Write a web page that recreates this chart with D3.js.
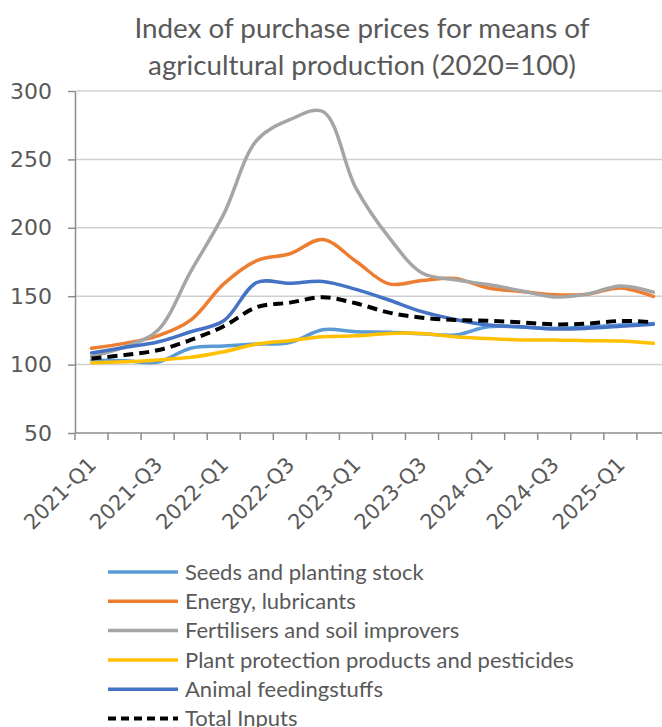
<!DOCTYPE html>
<html>
<head>
<meta charset="utf-8">
<script src="https://cdn.jsdelivr.net/npm/d3@7"></script>
<style>
  body { margin: 0; background: #fff; }
  svg { display: block; }
  text { font-family: Lato, "Liberation Sans", sans-serif; fill: #595959; }
  text.num { font-family: "DejaVu Sans", "Liberation Sans", sans-serif; }
</style>
</head>
<body>
<svg id="chart" width="662" height="727"></svg>
<script>
// Quarterly index values, 2020 = 100
const quarters = [
  "2021-Q1","2021-Q2","2021-Q3","2021-Q4",
  "2022-Q1","2022-Q2","2022-Q3","2022-Q4",
  "2023-Q1","2023-Q2","2023-Q3","2023-Q4",
  "2024-Q1","2024-Q2","2024-Q3","2024-Q4",
  "2025-Q1","2025-Q2"
];
const seeds      = [103.4, 102.8, 101.8, 112.0, 113.6, 115.0, 116.2, 125.5, 124.0, 123.6, 122.6, 121.6, 127.7, 127.5, 126.5, 127.4, 129.0, 130.0];
const energy     = [112.0, 115.5, 121.0, 132.5, 159.0, 176.0, 181.0, 191.5, 175.5, 159.0, 161.5, 163.0, 156.0, 153.5, 151.0, 151.5, 156.0, 149.8];
const fertiliser = [106.0, 113.0, 125.0, 168.0, 210.0, 264.0, 279.0, 285.0, 229.0, 193.0, 167.0, 162.0, 158.5, 154.0, 149.5, 151.5, 157.5, 153.0];
const plantProt  = [101.4, 102.0, 103.4, 105.3, 109.4, 115.0, 117.5, 120.4, 121.0, 122.8, 122.8, 120.4, 119.0, 118.0, 118.0, 117.5, 117.2, 115.6];
const feed       = [108.5, 112.5, 116.5, 124.0, 132.0, 160.0, 159.5, 160.8, 155.0, 147.2, 138.7, 133.0, 129.0, 127.7, 126.0, 126.5, 128.0, 129.5];
const total      = [104.5, 107.0, 110.5, 118.0, 128.0, 142.0, 145.3, 149.2, 144.8, 138.0, 134.3, 132.6, 132.0, 130.9, 129.4, 130.0, 131.9, 131.0];

const yTicks = [50, 100, 150, 200, 250, 300];
const xLabels = ["2021-Q1","2021-Q3","2022-Q1","2022-Q3","2023-Q1","2023-Q3","2024-Q1","2024-Q3","2025-Q1"];

const series = [
  { name: "Seeds and planting stock",                   values: seeds,      color: "#5B9BD5", dash: null },
  { name: "Energy, lubricants",                         values: energy,     color: "#ED7D31", dash: null },
  { name: "Fertilisers and soil improvers",             values: fertiliser, color: "#A5A5A5", dash: null },
  { name: "Plant protection products and pesticides",   values: plantProt,  color: "#FFC000", dash: null },
  { name: "Animal feedingstuffs",                       values: feed,       color: "#4472C4", dash: null },
  { name: "Total Inputs",                               values: total,      color: "#000000", dash: "10,6" }
];

const svg = d3.select("#chart");
const W = 662;
const plot = { left: 75, top: 91, bottom: 433, step: 33.05 };

const x = d3.scaleBand()
  .domain(quarters)
  .range([plot.left, plot.left + plot.step * quarters.length])
  .padding(0);
const cx = q => x(q) + x.bandwidth() / 2;
const y = d3.scaleLinear().domain([50, 300]).range([plot.bottom, plot.top]);

// Title
const title = svg.append("text")
  .attr("x", 362).attr("y", 38)
  .attr("text-anchor", "middle")
  .style("font-size", "27.8px");
title.append("tspan").attr("x", 362).text("Index of purchase prices for means of");
title.append("tspan").attr("x", 362).attr("dy", 37).text("agricultural production (2020=100)");

// Horizontal gridlines
svg.append("g")
  .selectAll("line")
  .data(yTicks.filter(v => v > 50))
  .join("line")
  .attr("x1", plot.left).attr("x2", W)
  .attr("y1", d => y(d)).attr("y2", d => y(d))
  .attr("stroke", "#d0d0d0").attr("stroke-width", 1.5);

// Y axis
const yAxis = svg.append("g")
  .attr("transform", `translate(${plot.left},0)`)
  .call(d3.axisLeft(y).tickValues(yTicks).tickSize(7).tickSizeOuter(0).tickPadding(16));
yAxis.attr("font-family", null);
yAxis.select(".domain").attr("stroke", "#8c8c8c").attr("stroke-width", 1.5);
yAxis.selectAll(".tick line").attr("stroke", "#8c8c8c").attr("stroke-width", 1.5);
yAxis.selectAll(".tick text")
  .attr("class", "num")
  .attr("fill", "#595959")
  .style("font-size", "22px");

// X axis: baseline with ticks between categories
const xg = svg.append("g");
xg.append("line")
  .attr("x1", plot.left).attr("x2", W)
  .attr("y1", plot.bottom).attr("y2", plot.bottom)
  .attr("stroke", "#8c8c8c").attr("stroke-width", 1.5);
xg.selectAll("line.tick")
  .data(quarters)
  .join("line")
  .attr("class", "tick")
  .attr("x1", d => x(d)).attr("x2", d => x(d))
  .attr("y1", plot.bottom).attr("y2", plot.bottom + 7)
  .attr("stroke", "#8c8c8c").attr("stroke-width", 1.5);
xg.selectAll("text")
  .data(xLabels)
  .join("text")
  .attr("class", "num")
  .attr("transform", d => `translate(${cx(d) + 6},${plot.bottom + 33}) rotate(-45)`)
  .attr("text-anchor", "end")
  .style("font-size", "21px")
  .text(d => d);

// Series lines
const line = d3.line()
  .x((d, i) => cx(quarters[i]))
  .y(d => y(d))
  .curve(d3.curveCatmullRom.alpha(0.5));

svg.append("g")
  .selectAll("path")
  .data(series)
  .join("path")
  .attr("d", d => line(d.values))
  .attr("fill", "none")
  .attr("stroke", d => d.color)
  .attr("stroke-width", d => d.dash ? 4 : 3.5)
  .attr("stroke-dasharray", d => d.dash)
  .attr("stroke-linejoin", "round")
  .attr("stroke-linecap", d => d.dash ? "butt" : "round");

// Legend
const legend = svg.append("g");
const rows = legend.selectAll("g")
  .data(series)
  .join("g")
  .attr("transform", (d, i) => `translate(0,${572 + i * 29.3})`);
rows.append("line")
  .attr("x1", 108).attr("x2", 178)
  .attr("y1", 0).attr("y2", 0)
  .attr("stroke", d => d.color)
  .attr("stroke-width", d => d.dash ? 4 : 3.5)
  .attr("stroke-dasharray", d => d.dash ? "8,5" : null);
rows.append("text")
  .attr("x", 185).attr("y", 0)
  .attr("dy", "0.35em")
  .style("font-size", "22px")
  .text(d => d.name);
</script>
</body>
</html>
